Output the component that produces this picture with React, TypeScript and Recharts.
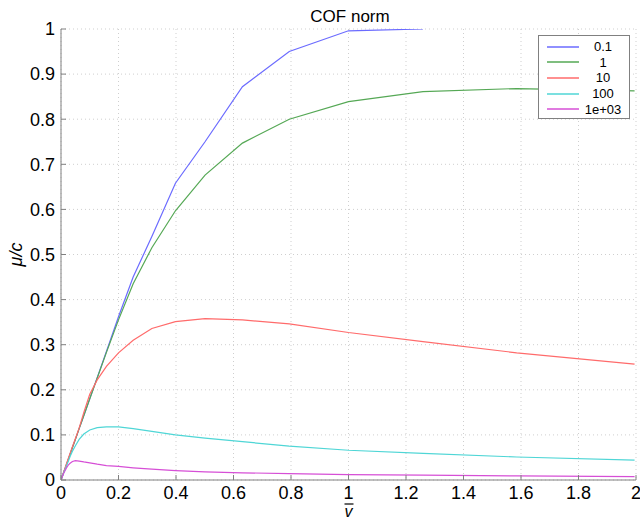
import { LineChart, Line, XAxis, YAxis, CartesianGrid } from 'recharts';

// speed values (log spaced) and normalised friction for each series
const xsLow = [0, 0.01, 0.0126, 0.0158, 0.02, 0.0251, 0.0316, 0.0398, 0.0501, 0.0631, 0.0794];
const xsHigh = [0.1, 0.126, 0.158, 0.2, 0.251, 0.316, 0.398, 0.501, 0.631, 0.794, 1.0, 1.259, 1.585, 1.995];

const y01 = [0, 0.018, 0.023, 0.028, 0.036, 0.045, 0.057, 0.072, 0.09, 0.114, 0.143,
  0.18, 0.227, 0.285, 0.362, 0.45, 0.54, 0.658, 0.75, 0.872, 0.95, 0.996, 1.0];
const y1 = [0, 0.018, 0.023, 0.028, 0.036, 0.045, 0.057, 0.072, 0.09, 0.114, 0.143,
  0.18, 0.226, 0.283, 0.355, 0.435, 0.515, 0.597, 0.676, 0.747, 0.8, 0.839, 0.861, 0.868, 0.863];
const y10 = [0, 0.019, 0.024, 0.03, 0.038, 0.047, 0.059, 0.074, 0.092, 0.115, 0.15,
  0.19, 0.222, 0.252, 0.282, 0.31, 0.336, 0.351, 0.358, 0.355, 0.346, 0.327, 0.307, 0.282, 0.257];
const y100 = [0, 0.017, 0.021, 0.026, 0.033, 0.041, 0.052, 0.064, 0.076, 0.09, 0.102,
  0.111, 0.116, 0.118, 0.118, 0.114, 0.108, 0.1, 0.093, 0.085, 0.075, 0.066, 0.059, 0.051, 0.044];
const y1000 = [0, 0.016, 0.019, 0.023, 0.028, 0.033, 0.037, 0.041, 0.043, 0.042, 0.04,
  0.038, 0.035, 0.032, 0.03, 0.027, 0.024, 0.021, 0.018, 0.016, 0.014, 0.012, 0.011, 0.009, 0.0077];

const xTicks = [0, 0.2, 0.4, 0.6, 0.8, 1, 1.2, 1.4, 1.6, 1.8, 2];
const yTicks = [0, 0.1, 0.2, 0.3, 0.4, 0.5, 0.6, 0.7, 0.8, 0.9, 1];

const allX = [...xsLow, ...xsHigh];
const toPoints = (ys: number[]) => ys.map((y, i) => ({ x: allX[i], y }));

const series = [
  { name: '0.1', color: '#6b6bff', data: toPoints(y01) },
  { name: '1', color: '#55a855', data: toPoints(y1) },
  { name: '10', color: '#ff6b6b', data: toPoints(y10) },
  { name: '100', color: '#4fd6d6', data: toPoints(y100) },
  { name: '1e+03', color: '#d64fd6', data: toPoints(y1000) },
];

const FONT = '"Liberation Sans", Arial, sans-serif';

function YTick(props: any) {
  const { x, y, payload } = props;
  return (
    <g>
      <line x1={x + 6} x2={x + 11} y1={y} y2={y} stroke="#808080" />
      <text x={x} y={y} dy="0.35em" textAnchor="end" fontSize={18} fontFamily={FONT} fill="#000">
        {payload.value}
      </text>
    </g>
  );
}

function XTick(props: any) {
  const { x, y, payload } = props;
  return (
    <g>
      <line x1={x} x2={x} y1={y - 6} y2={y - 11} stroke="#808080" />
      <text x={x} y={y} dy="0.71em" textAnchor="middle" fontSize={18} fontFamily={FONT} fill="#000">
        {payload.value}
      </text>
    </g>
  );
}

function LegendBox() {
  return (
    <div style={{ position: 'absolute', left: 538, top: 35, width: 92, height: 84, border: '1px solid #808080', background: '#fff', fontFamily: FONT, fontSize: 13, paddingTop: 3, boxSizing: 'border-box' }}>
      {series.map(s => (
        <div key={s.name} style={{ display: 'flex', alignItems: 'center', height: 15.6 }}>
          <svg width={42} height={10} style={{ flex: 'none' }}>
            <line x1={8} x2={40} y1={5} y2={5} stroke={s.color} strokeWidth={1.5} />
          </svg>
          <div style={{ flex: 1, textAlign: 'center', paddingRight: 4 }}>{s.name}</div>
        </div>
      ))}
    </div>
  );
}

export default function App() {
  return (
    <div style={{ position: 'absolute', left: 0, top: 0, width: 640, height: 522, background: '#fff' }}>
      <LineChart width={640} height={522} margin={{ top: 29, right: 4, left: 0, bottom: 0 }}>
        <text x={350} y={16} dy="0.35em" textAnchor="middle" fontSize={17} fontFamily={FONT} fill="#000">
          COF norm
        </text>
        <CartesianGrid stroke="#cfcfcf" strokeDasharray="1 3" />
        <XAxis
          type="number"
          dataKey="x"
          domain={[0, 2]}
          ticks={xTicks}
          allowDataOverflow
          height={42}
          stroke="#808080"
          tickLine={false}
          tickSize={0}
          tickMargin={6}
          tick={<XTick />}
          label={(p: any) => {
            const vb = p.viewBox;
            const cx = vb.x + vb.width / 2;
            return (
              <g>
                <line x1={cx - 4} x2={cx + 5} y1={504} y2={504} stroke="#000" strokeWidth={1.2} />
                <text x={cx} y={517} textAnchor="middle" fontSize={16} fontStyle="italic" fontFamily={FONT} fill="#000">v</text>
              </g>
            );
          }}
        />
        <YAxis
          type="number"
          domain={[0, 1]}
          ticks={yTicks}
          allowDataOverflow
          width={61}
          stroke="#808080"
          tickLine={false}
          tickSize={0}
          tickMargin={6}
          tick={<YTick />}
          label={{ value: 'μ/c', angle: -90, position: 'insideLeft', offset: 16, style: { fontSize: 18, fontStyle: 'italic', fontFamily: FONT, fill: '#000', textAnchor: 'middle' } }}
        />
        {series.map(s => (
          <Line
            key={s.name}
            data={s.data}
            dataKey="y"
            name={s.name}
            type="linear"
            stroke={s.color}
            strokeWidth={1.2}
            dot={false}
            isAnimationActive={false}
          />
        ))}
      </LineChart>
      <LegendBox />
    </div>
  );
}
